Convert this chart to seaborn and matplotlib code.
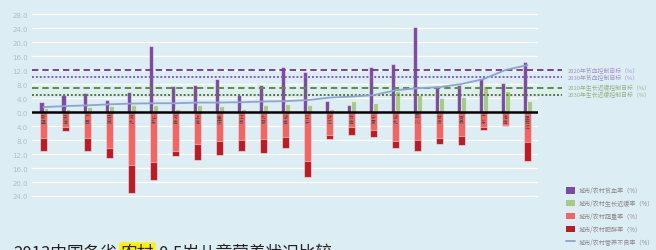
import numpy as np
import pandas as pd
import matplotlib
matplotlib.use('agg')
import matplotlib.pyplot as plt
from matplotlib.patches import Patch
from matplotlib.lines import Line2D
import seaborn as sns

#####################################################
# DATA
provinces = ['新疆', '天津', '广西', '安徽', '河北', '山东', '河南', '上海', '重庆', '江苏', '北京', '湖南',
             '辽宁', '浙江', '云南', '宁夏', '湖北', '四川', '甘肃', '吉林', '广东', '海南', '黑龙江']
anemia = [3.0, 4.9, 5.5, 3.5, 5.8, 18.9, 7.3, 7.8, 9.3, 4.8, 7.6, 12.9,
          11.5, 3.1, 2.1, 12.8, 13.6, 24.4, 7.3, 7.8, 9.5, 8.3, 14.3]
stunting = [1.2, 0.8, 1.5, 1.7, 2.1, 1.9, 1.0, 1.9, 1.6, 0.8, 2.1, 2.2,
            2.0, 1.0, 3.1, 2.7, 6.0, 5.0, 3.9, 4.3, 7.3, 5.9, 3.1]
overweight = [7.4, 4.2, 7.4, 10.3, 15.1, 14.2, 11.0, 9.0, 8.4, 8.0, 7.8, 7.0,
              13.9, 6.5, 4.3, 5.1, 8.3, 8.0, 7.4, 6.8, 4.2, 3.6, 8.5]
obesity = [3.7, 1.2, 3.6, 2.7, 7.9, 5.1, 1.6, 4.6, 3.8, 3.0, 3.8, 3.4,
           4.6, 1.1, 2.2, 1.9, 2.0, 3.1, 1.6, 2.6, 0.8, 0.3, 5.4]
malnutrition = [1.4, 1.7, 1.9, 2.2, 2.4, 2.5, 2.5, 2.7, 2.7, 2.8, 3.0, 3.1,
                3.4, 4.1, 4.4, 4.8, 6.2, 6.8, 7.1, 8.0, 9.4, 12.0, 13.4]

target_names = ['2020年贫血控制目标（%）', '2030年贫血控制目标（%）',
                '2020年生长迟缓控制目标（%）', '2030年生长迟缓控制目标（%）']
target_values = [12.0, 10.0, 7.0, 5.0]

series_names = ['城市/农村贫血率（%）', '城市/农村生长迟缓率（%）', '城市/农村超重率（%）',
                '城市/农村肥胖率（%）', '城市/农村营养不良率（%）']

title_parts = ['2013中国各省', '农村', '0-5岁儿童营养状况比较']

#####################################################
# STYLE
bg = '#dcedf4'
c_purple = '#7a4b9f'
c_green = '#a5cb88'
c_light = '#ee6666'
c_dark = '#b81d25'
c_line = '#8aa4d6'
target_colors = ['#7c3f9e', '#8a5cc0', '#5f8f34', '#4f7f2a']
target_styles = [(0, (3.3, 2)), (0, (1, 1)), (0, (3.3, 2)), (0, (1, 1))]
target_text_colors = ['#a596c4', '#a596c4', '#98b386', '#98b386']

sns.set_theme(style='white')
plt.rcParams['font.family'] = ['Noto Sans CJK SC', 'DejaVu Sans']

fig = plt.figure(figsize=(6.56, 2.51), dpi=100, facecolor=bg)
ax = fig.add_axes([32 / 656, 1 - 204 / 251, (538 - 32) / 656, 196 / 251])
ax.set_facecolor(bg)

#grid
for v in np.arange(-24, 29, 4):
    ax.axhline(v, color='white', lw=1.0, zorder=0)

#negative stacked bars: total (dark) first, overweight (light) on top of it
total = [o + b for o, b in zip(overweight, obesity)]
neg_df = pd.DataFrame({'prov': provinces, 'total': [-t for t in total], 'over': [-o for o in overweight]})
sns.barplot(data=neg_df, x='prov', y='total', color=c_dark, saturation=1, width=0.32,
            edgecolor=(1, 1, 1, 0.45), linewidth=0.8, ax=ax, zorder=2)
sns.barplot(data=neg_df, x='prov', y='over', color=c_light, saturation=1, width=0.32,
            edgecolor=(1, 1, 1, 0.45), linewidth=0.8, ax=ax, zorder=2)

#positive grouped bars
pos_df = pd.DataFrame({'prov': provinces * 2,
                       'val': anemia + stunting,
                       'series': ['anemia'] * len(provinces) + ['stunting'] * len(provinces)})
sns.barplot(data=pos_df, x='prov', y='val', hue='series', palette=[c_purple, c_green], saturation=1,
            width=0.4, edgecolor=(1, 1, 1, 0.45), linewidth=0.8, legend=False, ax=ax, zorder=2)

#malnutrition line
sns.lineplot(x=np.arange(len(provinces)), y=malnutrition, color=c_line, lw=1.3, ax=ax, zorder=4)

#target lines (extend past the axes into the label area)
for name, v, col, ls, tc in zip(target_names, target_values, target_colors, target_styles, target_text_colors):
    ax.hlines(v, 0, 1.047, transform=ax.get_yaxis_transform(), colors=col, linestyles=ls,
              lw=1.4, clip_on=False, zorder=3)
    ax.text(1.059, v, name, transform=ax.get_yaxis_transform(), color=tc, fontsize=4.2,
            va='center', ha='left', clip_on=False)

#zero line
ax.axhline(0, color='black', lw=1.8, zorder=5)

#province labels inside the red bars
for i, p in enumerate(provinces):
    ax.text(i, -0.5, '\n'.join(p), ha='center', va='top', fontsize=3.4, color='#4a4a4a',
            linespacing=1.05, zorder=6)

ax.set_xlim(-0.523, 22.48)
ax.set_ylim(-26, 30)
ax.set_xticks([])
ticks = np.arange(-24, 29, 4)
ax.set_yticks(ticks)
ax.set_yticklabels(['%.1f' % abs(t) for t in ticks], fontsize=5, color='#b2bec6', family='DejaVu Sans')
ax.tick_params(axis='y', length=0, pad=3)
ax.set_xlabel('')
ax.set_ylabel('')
sns.despine(ax=ax, left=True, bottom=True)

#legend
handles = [Patch(facecolor=c_purple, edgecolor='none'),
           Patch(facecolor=c_green, edgecolor='none'),
           Patch(facecolor=c_light, edgecolor='none'),
           Patch(facecolor=c_dark, edgecolor='none'),
           Line2D([0], [0], color=c_line, lw=1.3)]
fig.legend(handles, series_names, loc='upper left', bbox_to_anchor=(560 / 656, 1 - 182 / 251),
           frameon=False, fontsize=4.4, handlelength=1.5, handleheight=1.2, labelspacing=0.8,
           handletextpad=0.7, labelcolor='#8a8a8a')

#title at the bottom, with 农村 highlighted; pieces chained one after another
t1 = fig.text(13 / 656, 1 - 245 / 251, title_parts[0], fontsize=12, color='#222222', va='top', ha='left')
t2 = fig.text(0, 0, title_parts[1], fontsize=12, color='#222222', va='top', ha='left',
              bbox=dict(boxstyle='round,pad=0.1', facecolor='#fff200', edgecolor='none'))
t3 = fig.text(0, 0, title_parts[2], fontsize=12, color='#222222', va='top', ha='left')
fig.canvas.draw()
r = fig.canvas.get_renderer()
inv = fig.transFigure.inverted()
bb1 = t1.get_window_extent(r)
x2 = inv.transform((bb1.x1 + 4, 0))[0]
t2.set_position((x2, 1 - 245 / 251))
fig.canvas.draw()
bb2 = t2.get_window_extent(r)
x3 = inv.transform((bb2.x1 + 4, 0))[0]
t3.set_position((x3, 1 - 245 / 251))

plt.savefig('out.png', dpi=100, facecolor=bg)
